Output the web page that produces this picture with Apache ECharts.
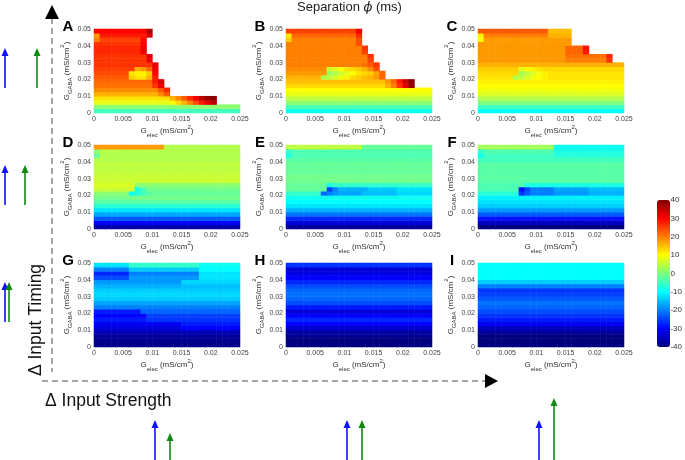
<!DOCTYPE html>
<html><head><meta charset="utf-8">
<script src="https://cdn.jsdelivr.net/npm/echarts@6/dist/echarts.min.js"></script>
<style>html,body{margin:0;padding:0;background:#fff}#c{width:685px;height:460px}</style>
</head><body><div id="c"></div>
<script>
// ---------------- data ----------------
const gelecMax = 0.025, gelecInterval = 0.005;   // x axis (mS/cm^2)
const ggabaMax = 0.05, ggabaInterval = 0.01;     // y axis (mS/cm^2)
const nGelecCells = 25, nGgabaCells = 20;        // grid of simulated cells
const colorbarMin = -40, colorbarMax = 40, colorbarInterval = 10;
const panelLetters = ['A','B','C','D','E','F','G','H','I'];

// Each panel: 20 rows (GGABA bottom -> top), each row run-length [value, count] along Gelec; missing cells omitted
const panelA = [
 [[-5,25]],
 [[1,25]],
 [[8,13],[10,1],[13,1],[16,1],[20,1],[24,1],[28,1],[32,1],[35,1]],
 [[12,13],[16,1],[19,1],[23,1],[27,1],[31,1],[35,1],[38,1],[39,1]],
 [[16,11],[19,1],[23,1]],
 [[19,11],[23,1],[27,1]],
 [[21,10],[26,1],[31,1]],
 [[22,10],[28,1],[33,1]],
 [[23,6],[14,1],[12,2],[16,1],[28,1]],
 [[24,6],[12,1],[11,2],[14,1],[30,1]],
 [[25,7],[16,1],[18,1],[22,1],[31,1]],
 [[26,10],[32,1]],
 [[26,9],[31,1]],
 [[26,9],[32,1]],
 [[27,8],[31,1]],
 [[27,8],[31,1]],
 [[26,8],[30,1]],
 [[20,1],[25,7],[30,1]],
 [[18,1],[28,8],[33,1]],
 [[30,9],[36,1]]
];
const panelB = [
 [[-9,25]],
 [[-4,25]],
 [[1,25]],
 [[5,25]],
 [[8,25]],
 [[10,25]],
 [[13,17],[16,1],[20,1],[26,1],[32,1],[38,1]],
 [[15,17],[18,1],[22,1],[28,1],[34,1],[39,1]],
 [[16,6],[4,1],[5,1],[7,1],[9,1],[11,1],[13,1],[14,1],[15,1],[16,1],[18,1],[22,1]],
 [[18,7],[2,1],[4,1],[6,1],[8,1],[10,1],[12,1],[13,1],[14,1],[17,1],[22,1]],
 [[19,7],[6,1],[8,1],[10,1],[12,1],[13,1],[14,1],[16,1],[19,1],[24,1]],
 [[20,13],[21,1],[23,1],[26,1]],
 [[20,14],[25,1]],
 [[20,14],[26,1]],
 [[20,13],[25,1]],
 [[20,13],[26,1]],
 [[20,12],[24,1]],
 [[14,1],[20,11],[24,1]],
 [[12,1],[22,11],[27,1]],
 [[25,12],[31,1]]
];
const panelC = [
 [[-10,25]],
 [[-5,25]],
 [[0,25]],
 [[4,25]],
 [[7,25]],
 [[9,25]],
 [[10,25]],
 [[11,25]],
 [[12,6],[4,1],[5,1],[7,1],[9,1],[10,1],[11,1],[12,13]],
 [[13,7],[3,1],[5,1],[7,1],[9,1],[11,1],[12,13]],
 [[14,7],[8,1],[10,1],[11,1],[12,1],[13,14]],
 [[16,25]],
 [[18,15],[20,7],[26,1]],
 [[18,15],[21,7],[27,1]],
 [[18,15],[22,3],[28,1]],
 [[18,15],[22,3],[29,1]],
 [[18,16]],
 [[10,1],[18,15]],
 [[11,1],[20,11],[16,4]],
 [[23,12],[15,4]]
];
const panelD = [
 [[-37,25]],
 [[-30,25]],
 [[-23,25]],
 [[-17,25]],
 [[-12,25]],
 [[-7,25]],
 [[-3,25]],
 [[-1,25]],
 [[1,6],[-9,1],[-7,1],[-5,1],[-3,1],[-2,15]],
 [[6,7],[-8,1],[-4,1],[-1,16]],
 [[7,7],[1,18]],
 [[6,25]],
 [[6,25]],
 [[5,25]],
 [[5,25]],
 [[5,25]],
 [[4,25]],
 [[-2,1],[4,24]],
 [[1,1],[4,24]],
 [[18,12],[4,13]]
];
const panelE = [
 [[-38,25]],
 [[-33,25]],
 [[-27,25]],
 [[-21,25]],
 [[-16,25]],
 [[-12,25]],
 [[-10,25]],
 [[-9,25]],
 [[-6,6],[-22,1],[-20,1],[-18,1],[-17,4],[-15,6],[-13,6]],
 [[-2,7],[-25,1],[-19,1],[-16,5],[-14,5],[-12,6]],
 [[-2,7],[-8,1],[-6,17]],
 [[-1,25]],
 [[-1,25]],
 [[-2,25]],
 [[-2,25]],
 [[-2,25]],
 [[-3,25]],
 [[-8,1],[-4,24]],
 [[-6,1],[-4,24]],
 [[5,13],[-2,12]]
];
const panelF = [
 [[-40,25]],
 [[-35,25]],
 [[-29,25]],
 [[-23,25]],
 [[-18,25]],
 [[-14,25]],
 [[-12,25]],
 [[-11,25]],
 [[-7,7],[-26,1],[-23,1],[-20,4],[-18,6],[-16,6]],
 [[-4,7],[-29,1],[-24,1],[-20,4],[-17,6],[-15,6]],
 [[-4,8],[-8,17]],
 [[-3,25]],
 [[-3,25]],
 [[-3,25]],
 [[-3,25]],
 [[-3,25]],
 [[-5,25]],
 [[-9,1],[-5,12],[-7,12]],
 [[-6,1],[-4,12],[-8,12]],
 [[3,13],[-9,12]]
];
const panelG = [
 [[-39,25]],
 [[-39,25]],
 [[-38,25]],
 [[-36,25]],
 [[-33,15],[-30,10]],
 [[-31,15],[-28,10]],
 [[-28,9],[-26,16]],
 [[-30,9],[-25,16]],
 [[-28,8],[-22,17]],
 [[-20,25]],
 [[-17,25]],
 [[-14,25]],
 [[-13,25]],
 [[-14,25]],
 [[-16,15],[-15,10]],
 [[-18,15],[-13,10]],
 [[-24,6],[-18,12],[-12,7]],
 [[-27,6],[-20,12],[-12,7]],
 [[-20,6],[-14,12],[-10,7]],
 [[-12,6],[-6,12],[-9,7]]
];
const panelH = [
 [[-40,25]],[[-40,25]],[[-39,25]],[[-37,25]],[[-34,25]],[[-30,25]],[[-27,25]],[[-30,25]],
 [[-33,25]],[[-28,25]],[[-24,25]],[[-22,25]],[[-21,25]],[[-22,25]],[[-24,25]],[[-27,25]],
 [[-30,25]],[[-32,25]],[[-33,25]],[[-26,25]]
];
const panelI = [
 [[-40,25]],[[-40,25]],[[-40,25]],[[-38,25]],[[-35,25]],[[-31,25]],[[-28,25]],[[-26,25]],
 [[-24,25]],[[-22,25]],[[-21,25]],[[-23,25]],[[-25,25]],[[-26,25]],[[-20,25]],[[-14,25]],
 [[-10,25]],[[-10,25]],[[-10,25]],[[-10,25]]
];
const panels = [panelA,panelB,panelC,panelD,panelE,panelF,panelG,panelH,panelI];

// Schematic input arrows (relative positions of blue / green inputs)
const timingArrows = [ // per row: offset of green relative to blue
  {row:0, greenDx:32}, {row:1, greenDx:20}, {row:2, greenDx:4}
];
const strengthArrows = [ // per column: green tip offset relative to blue tip
  {col:0, greenTipDy:13}, {col:1, greenTipDy:0}, {col:2, greenTipDy:-22}
];

// ---------------- layout ----------------
const colLeft = [94, 286, 478], rowTop = [29, 145, 263], PW = 146, PH = 84;
const FONT = '"Liberation Sans", Arial, Helvetica, sans-serif';
const jet = ['#00007f','#0000ff','#007fff','#00ffff','#7fff7f','#ffff00','#ff7f00','#ff0000','#7f0000'];

function expandRow(runs){
  const out = [];
  runs.forEach(([v,n]) => { for (let k=0;k<n;k++) out.push(v); });
  return out;
}
function cells(panel){
  const d = [];
  panel.forEach((runs, r) => expandRow(runs).forEach((v, c) => { if (v !== null) d.push([c, r, v]); }));
  return d;
}
const xCats = Array.from({length:nGelecCells}, (_,i)=>String(i));
const yCats = Array.from({length:nGgabaCells}, (_,i)=>String(i));

const richName = {
  g:{fontSize:8, color:'#333', lineHeight:14, fontFamily:FONT},
  s:{fontSize:6, color:'#333', verticalAlign:'bottom', fontFamily:FONT},
  p:{fontSize:6, color:'#333', verticalAlign:'top', fontFamily:FONT}
};

const grid = [], xAxis = [], yAxis = [], series = [], graphic = [];
panels.forEach((p, i) => {
  const c = i % 3, r = Math.floor(i / 3);
  grid.push({left: colLeft[c], top: rowTop[r], width: PW, height: PH});
  xAxis.push({gridIndex:i, type:'category', data:xCats, show:false});
  xAxis.push({gridIndex:i, type:'value', position:'bottom', min:0, max:gelecMax, interval:gelecInterval,
    axisLine:{show:false}, axisTick:{show:false}, splitLine:{show:false},
    axisLabel:{fontSize:7, color:'#444', margin:3, fontFamily:FONT},
    name:'{g|G}{s|elec}{g| (mS/cm}{p|2}{g|)}', nameLocation:'middle', nameGap:11,
    nameTextStyle:{rich:richName}});
  yAxis.push({gridIndex:i, type:'category', data:yCats, show:false});
  yAxis.push({gridIndex:i, type:'value', position:'left', min:0, max:ggabaMax, interval:ggabaInterval,
    axisLine:{show:false}, axisTick:{show:false}, splitLine:{show:false},
    axisLabel:{fontSize:7, color:'#444', margin:3, fontFamily:FONT},
    name:'{g|G}{s|GABA}{g| (mS/cm}{p|2}{g|)}', nameLocation:'middle', nameGap:19,
    nameTextStyle:{rich:richName}});
  series.push({type:'heatmap', xAxisIndex:2*i, yAxisIndex:2*i, data:cells(p),
    itemStyle:{borderWidth:0}, emphasis:{disabled:true}, silent:true, progressive:0});
  graphic.push({type:'text', x: colLeft[c]-26, y: rowTop[r]-2,
    style:{text: panelLetters[i], fontSize:15, fontWeight:'bold', fontFamily:FONT, fill:'#000', align:'center', verticalAlign:'middle'}});
});
// colorbar label axis
const cbLeft = 657, cbTop = 200, cbW = 13, cbH = 147;
grid.push({left: cbLeft, top: cbTop, width: cbW, height: cbH});
xAxis.push({gridIndex:9, type:'value', show:false});
yAxis.push({gridIndex:9, type:'value', position:'right', min:colorbarMin, max:colorbarMax, interval:colorbarInterval,
  axisLine:{show:false}, axisTick:{show:false}, splitLine:{show:false},
  axisLabel:{fontSize:8, color:'#333', margin:3, fontFamily:FONT}});

// dashed axes
graphic.push({type:'line', shape:{x1:52,y1:18,x2:52,y2:372}, style:{stroke:'#888', lineWidth:1.5, lineDash:[6,4]}});
graphic.push({type:'line', shape:{x1:42,y1:381,x2:486,y2:381}, style:{stroke:'#888', lineWidth:1.5, lineDash:[6,4]}});
graphic.push({type:'polygon', shape:{points:[[45,19],[59,19],[52,5]]}, style:{fill:'#000'}});
graphic.push({type:'polygon', shape:{points:[[485,374],[485,388],[498,381]]}, style:{fill:'#000'}});
graphic.push({type:'text', x:36, y:320, rotation:Math.PI/2,
  style:{text:'Δ Input Timing', fontSize:17.5, fontFamily:FONT, fill:'#111', align:'center', verticalAlign:'middle'}});
graphic.push({type:'text', x:45, y:401,
  style:{text:'Δ Input Strength', fontSize:17.5, fontFamily:FONT, fill:'#111', align:'left', verticalAlign:'middle'}});

function arrow(x, tip, bottom, color){
  graphic.push({type:'line', shape:{x1:x,y1:bottom,x2:x,y2:tip+6}, style:{stroke:color, lineWidth:1.6}});
  graphic.push({type:'polygon', shape:{points:[[x-3.5,tip+8],[x+3.5,tip+8],[x,tip]]}, style:{fill:color}});
}
const BLUE = '#1010ff', GREEN = '#118811';
const leftArrowTop = [48, 165, 282];
timingArrows.forEach(a => {
  const t = leftArrowTop[a.row];
  arrow(5, t, t+40, BLUE);
  arrow(5 + a.greenDx, t, t+40, GREEN);
});
strengthArrows.forEach(a => {
  const x = colLeft[a.col] + 61;
  arrow(x, 420, 460, BLUE);
  arrow(x + 15, 420 + a.greenTipDy, 460, GREEN);
});

const chart = echarts.init(document.getElementById('c'), null, {renderer:'canvas'});
chart.setOption({
  animation:false,
  backgroundColor:'#fff',
  title:{text:'Separation {i|ϕ} (ms)', left:297, top:1, padding:0,
    textStyle:{fontSize:13, fontWeight:'normal', color:'#222', fontFamily:FONT,
      rich:{i:{fontSize:13, fontStyle:'italic', color:'#222', fontFamily:'"DejaVu Serif", serif'}}}},
  grid, xAxis, yAxis, series, graphic,
  visualMap:{type:'continuous', min:colorbarMin, max:colorbarMax, seriesIndex:[0,1,2,3,4,5,6,7,8],
    left:cbLeft, top:cbTop, itemWidth:cbW, itemHeight:cbH, padding:0, calculable:false,
    hoverLink:false, inRange:{color:jet}}
});
</script></body></html>
